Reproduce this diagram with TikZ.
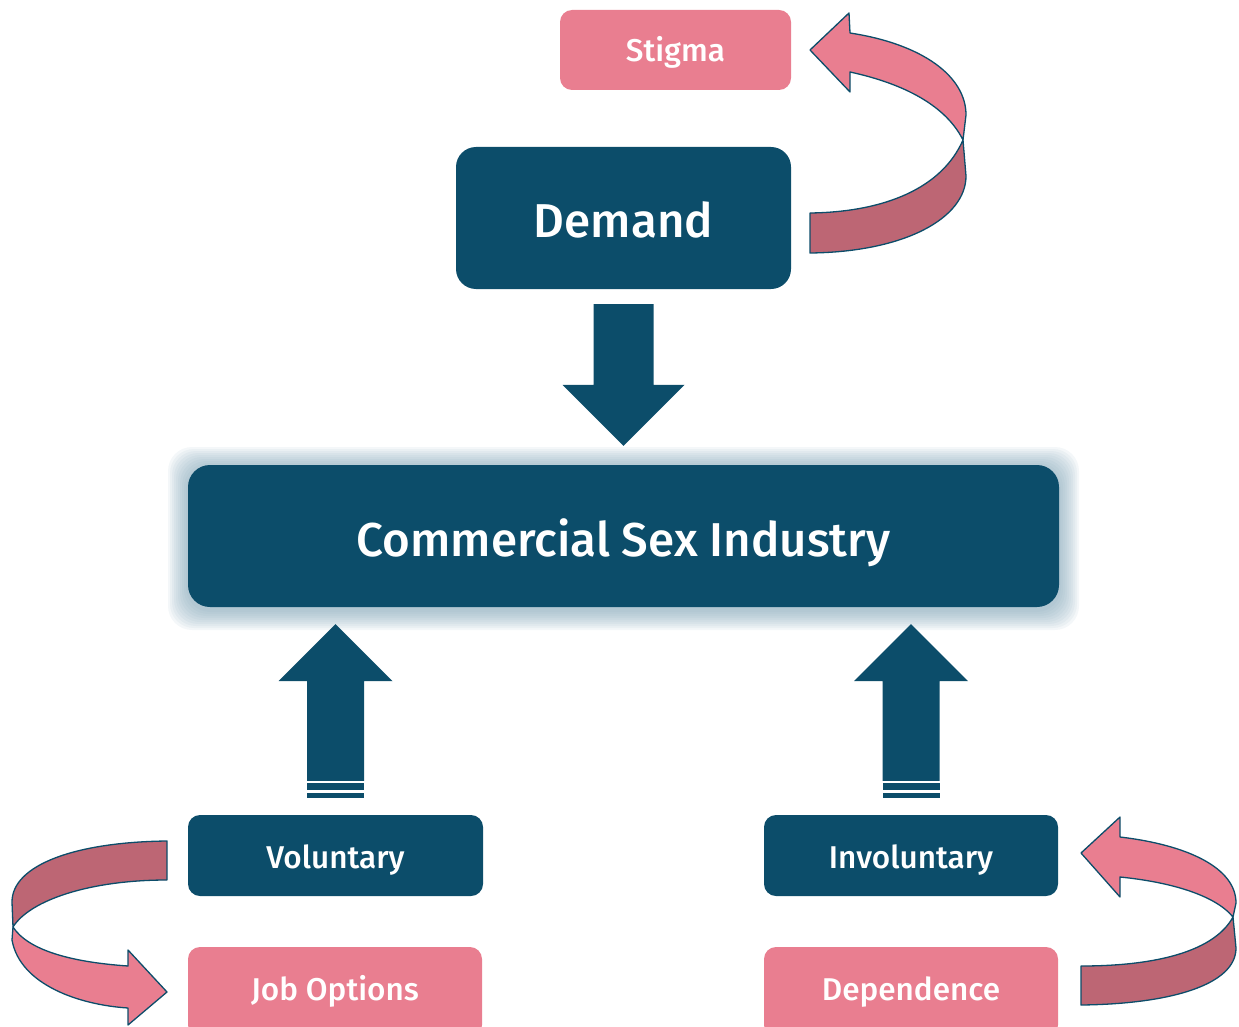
\documentclass[tikz,border=0pt]{standalone}
\usepackage{fontspec}
\setmainfont{Fira Sans Medium}
\usetikzlibrary{calc}
\definecolor{dteal}{HTML}{0C4D6A}
\definecolor{pinkc}{HTML}{E97E90}
\definecolor{dpink}{HTML}{BD6674}
\definecolor{glowc}{HTML}{7FA3B6}
\newcommand{\lbl}[2]{\raisebox{-#1pt}[0pt][0pt]{#2}}
\begin{document}
\begin{tikzpicture}[x=1pt,y=-1pt,
  darkbox/.style={fill=dteal, text=white, rounded corners=14pt, inner sep=0pt, anchor=center},
  pinkbox/.style={fill=pinkc, text=white, rounded corners=12pt, inner sep=0pt, anchor=center},
  bigtext/.style={font=\fontsize{47.5}{52}\selectfont},
  smalltext/.style={font=\fontsize{31.5}{36}\selectfont},
  curvarrow/.style={draw=dteal, line width=1.3pt, line join=round},
  blockarrow/.style={fill=dteal}]
\useasboundingbox (0,0) rectangle (1239,1027);
\clip (0,0) rectangle (1239,1027);

% glow behind central box
\foreach \i in {20,18,...,2}{
  \fill[glowc, opacity=0.085, rounded corners=24pt]
    (188-\i,465-\i+2) rectangle (1059+\i,607+\i+3);
}

% boxes
\node[pinkbox, smalltext, minimum width=231pt, minimum height=80pt] (stigma) at (675.5,50) {\lbl{12}{Stigma}};
\node[darkbox, bigtext, rounded corners=20pt, minimum width=335pt, minimum height=142pt] (demand) at (623.5,218) {\lbl{19.5}{Demand}};
\node[darkbox, bigtext, rounded corners=22pt, minimum width=871pt, minimum height=142pt] (csi) at (623.5,536) {\lbl{20}{Commercial Sex Industry}};
\node[darkbox, smalltext, rounded corners=12pt, minimum width=295pt, minimum height=81pt] (vol) at (335.5,855.5) {\lbl{13}{Voluntary}};
\node[darkbox, smalltext, rounded corners=12pt, minimum width=294pt, minimum height=81pt] (invol) at (911,855.5) {\lbl{13}{Involuntary}};
\node[pinkbox, smalltext, minimum width=294pt, minimum height=90pt] (job) at (335,992) {\lbl{8}{Job Options}};
\node[pinkbox, smalltext, minimum width=294pt, minimum height=90pt] (dep) at (911,992) {\lbl{8}{Dependence}};

% down arrow demand -> csi
\coordinate (dtop) at ($(demand.south)+(0,15)$);
\coordinate (dtip) at ($(csi.north)+(0,-19)$);
\fill[blockarrow] ($(dtop)+(-30,0)$) -- ($(dtop)+(30,0)$) -- ($(dtip)+(30,-61)$)
  -- ($(dtip)+(61,-61)$) -- (dtip) -- ($(dtip)+(-61,-61)$) -- ($(dtip)+(-30,-61)$) -- cycle;

% up arrows
\foreach \src/\nm in {vol/ua, invol/ub}{
  \coordinate (\nm tip) at (\src.north |- csi.south);
  \coordinate (\nm tip) at ($(\nm tip)+(0,17)$);
  \coordinate (\nm base) at ($(\src.north)+(0,-17)$);
  \fill[blockarrow] (\nm tip) -- ($(\nm tip)+(57,57)$) -- ($(\nm tip)+(28.5,57)$)
    -- ($(\nm base)+(28.5,-17)$) -- ($(\nm base)+(-28.5,-17)$) -- ($(\nm tip)+(-28.5,57)$)
    -- ($(\nm tip)+(-57,57)$) -- cycle;
  \fill[blockarrow] ($(\nm base)+(-28.5,-15)$) rectangle ($(\nm base)+(28.5,-8)$);
  \fill[blockarrow] ($(\nm base)+(-28.5,-5)$) rectangle ($(\nm base)+(28.5,0)$);
}

% curved arrow: demand -> stigma (top right)
\filldraw[curvarrow, fill=dpink] (963,140) .. controls (942,188) and (885,212) .. (810,213)
  -- (810,253) .. controls (905,252) and (966,218) .. (966,176) -- cycle;
\filldraw[curvarrow, fill=pinkc] (810,50) -- (849,13) -- (850,33)
  .. controls (922,44) and (966,76) .. (966,115) -- (963,140)
  .. controls (946,106) and (905,84) .. (850,72) -- (850,92) -- cycle;

% curved arrow: voluntary -> job options (bottom left)
\filldraw[curvarrow, fill=dpink] (167,841) .. controls (75,842) and (12,865) .. (12,902)
  -- (13,927) .. controls (30,900) and (90,880) .. (167,880) -- cycle;
\filldraw[curvarrow, fill=pinkc] (13,927) -- (12,940)
  .. controls (20,985) and (80,1005) .. (128,1008) -- (128,1025) -- (167,992) -- (128,950) -- (128,966)
  .. controls (70,962) and (28,950) .. (13,927) -- cycle;

% curved arrow: dependence -> involuntary (bottom right)
\filldraw[curvarrow, fill=dpink] (1233,917) .. controls (1215,950) and (1160,966) .. (1081,966)
  -- (1081,1005) .. controls (1170,1004) and (1236,985) .. (1236,948) -- cycle;
\filldraw[curvarrow, fill=pinkc] (1081,853) -- (1120,817) -- (1120,837)
  .. controls (1188,845) and (1236,868) .. (1236,903) -- (1233,917)
  .. controls (1215,895) and (1170,882) .. (1120,877) -- (1120,897) -- cycle;
\end{tikzpicture}
\end{document}
